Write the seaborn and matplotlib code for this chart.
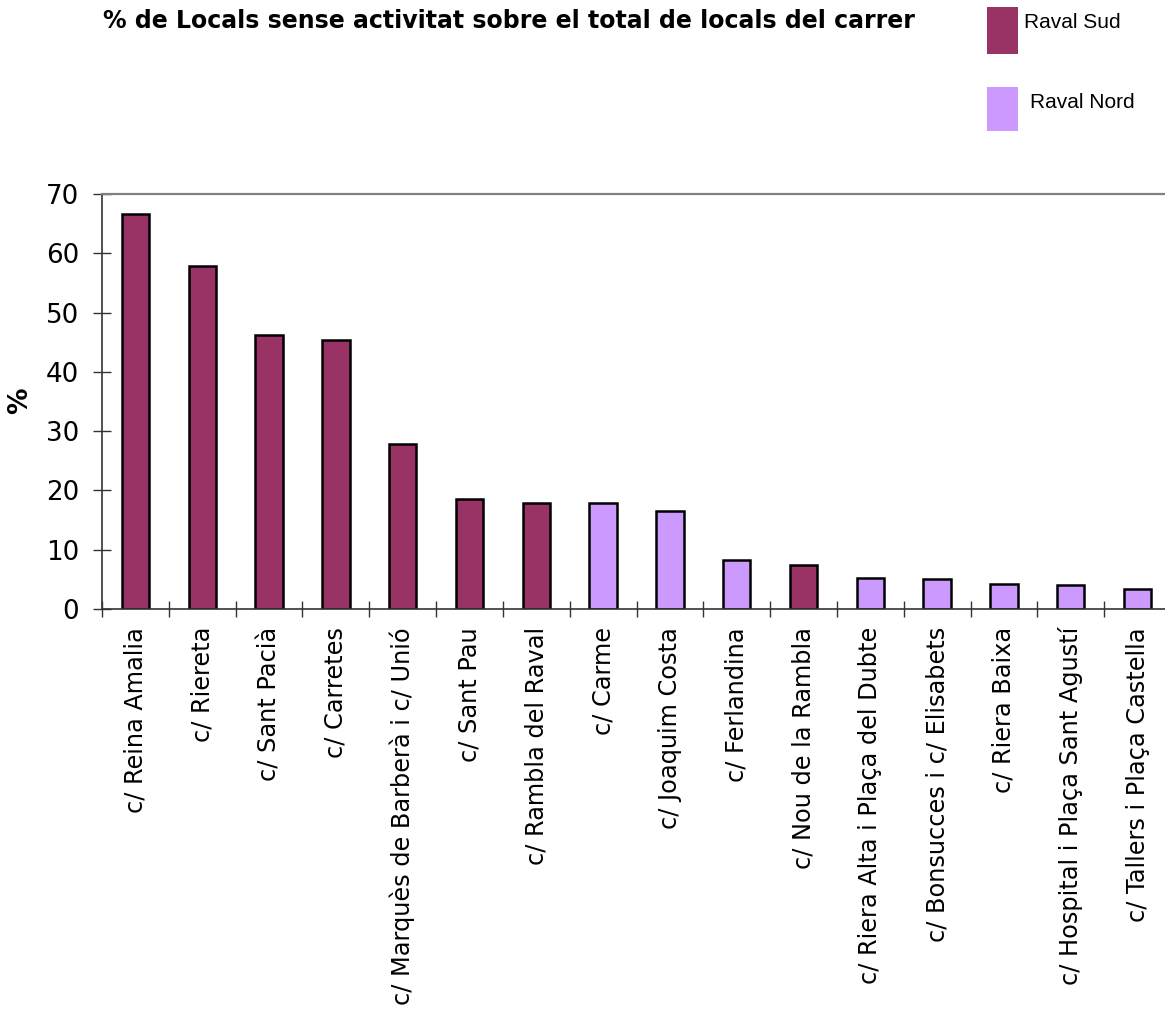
import matplotlib
matplotlib.use("Agg")
import matplotlib.pyplot as plt
from matplotlib.patches import Rectangle
from matplotlib.ticker import FixedLocator
import seaborn as sns
import pandas as pd

# Street-level share of premises without activity (%)
streets = [
    "c/ Reina Amalia", "c/ Riereta", "c/ Sant Pacià", "c/ Carretes",
    "c/ Marquès de Barberà i c/ Unió", "c/ Sant Pau", "c/ Rambla del Raval",
    "c/ Carme", "c/ Joaquim Costa", "c/ Ferlandina", "c/ Nou de la Rambla",
    "c/ Riera Alta i Plaça del Dubte", "c/ Bonsucces i c/ Elisabets",
    "c/ Riera Baixa", "c/ Hospital i Plaça Sant Agustí",
    "c/ Tallers i Plaça Castella",
]
pct_empty = [66.7, 57.8, 46.2, 45.4, 27.8, 18.5, 17.9, 17.8, 16.5, 8.2,
             7.5, 5.2, 5.0, 4.2, 4.0, 3.4]
zones = ["Raval Sud"] * 7 + ["Raval Nord"] * 3 + ["Raval Sud"] + ["Raval Nord"] * 5
zone_names = ["Raval Sud", "Raval Nord"]
zone_colors = ["#993366", "#CC99FF"]
y_ticks = [0, 10, 20, 30, 40, 50, 60, 70]

df = pd.DataFrame({"carrer": streets, "pct": pct_empty, "zona": zones})
palette = dict(zip(zone_names, zone_colors))

sns.set_theme(style="white")
plt.rcParams["font.family"] = ["DejaVu Sans"]
plt.rcParams["text.color"] = "black"

W, H = 1165, 1014
fig = plt.figure(figsize=(W / 100, H / 100), dpi=100)
ax = fig.add_axes([102 / W, 1 - 609 / H, 1069 / W, 415 / H])

sns.barplot(data=df, x="carrer", y="pct", hue="zona", palette=palette,
            saturation=1, dodge=False, width=0.41, edgecolor="black",
            linewidth=1.8, legend=False, ax=ax)

ax.set_xlim(-0.5, len(streets) - 0.5)
ax.set_ylim(0, 70)
ax.set_yticks(y_ticks)
ax.set_xlabel("")
ax.set_ylabel("")

# Category labels sit under the bars; tick marks fall between categories
ax.set_xticks(range(len(streets)))
ax.set_xticklabels(streets, rotation=90, fontsize=17.3, color="black")
ax.tick_params(axis="x", which="major", length=0, pad=13)
ax.xaxis.set_minor_locator(FixedLocator([i - 0.5 for i in range(len(streets) + 1)]))
ax.tick_params(axis="x", which="minor", direction="inout", length=12,
               width=1.0, color="#333333", bottom=True)
ax.tick_params(axis="y", direction="inout", length=13, width=1.0,
               color="#333333", labelsize=18.8, labelcolor="black", pad=10, left=True)

for side in ("left", "bottom"):
    ax.spines[side].set_color("#333333")
    ax.spines[side].set_linewidth(1.2)
ax.spines["top"].set_color("#808080")
ax.spines["top"].set_linewidth(1.6)
ax.spines["right"].set_visible(False)

fig.text(20 / W, 1 - 401 / H, "%", rotation=90, ha="center", va="center",
         fontsize=19, fontweight="bold", color="black")
fig.text(103 / W, 1 - 21 / H,
         "% de Locals sense activitat sobre el total de locals del carrer",
         ha="left", va="center", fontsize=17.05, fontweight="bold", color="black")

# Zone key
key_rows = [(7, 54, 1024), (87, 131, 1030)]
for (top, bottom, tx), name, color in zip(key_rows, zone_names, zone_colors):
    fig.add_artist(Rectangle((987 / W, 1 - bottom / H), 31 / W, (bottom - top) / H,
                             transform=fig.transFigure, facecolor=color,
                             edgecolor="none"))
    fig.text(tx / W, 1 - (top + 15) / H, name, ha="left", va="center",
             fontsize=15, color="black", family=["Liberation Sans", "DejaVu Sans"])

fig.savefig("out.png", dpi=100)
